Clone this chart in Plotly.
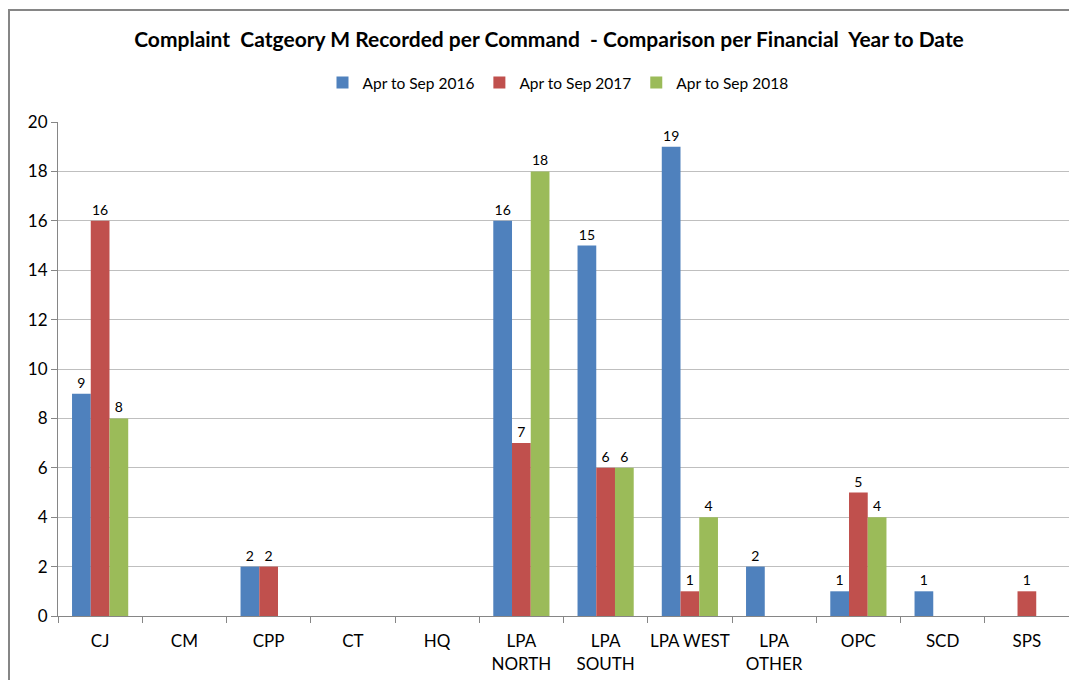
import plotly.graph_objects as go

commands = ["CJ", "CM", "CPP", "CT", "HQ", "LPA<br>NORTH", "LPA<br>SOUTH", "LPA WEST",
            "LPA<br>OTHER", "OPC", "SCD", "SPS"]
apr_sep_2016 = [9, 0, 2, 0, 0, 16, 15, 19, 2, 1, 1, 0]
apr_sep_2017 = [16, 0, 2, 0, 0, 7, 6, 1, 0, 5, 0, 1]
apr_sep_2018 = [8, 0, 0, 0, 0, 18, 6, 4, 0, 4, 0, 0]

series = [
    ("Apr to Sep 2016", apr_sep_2016, "#4F81BD"),
    ("Apr to Sep 2017", apr_sep_2017, "#C0504D"),
    ("Apr to Sep 2018", apr_sep_2018, "#9BBB59"),
]

# page body has an 8px margin, so the figure starts at (8, 8)
W, H = 1069, 672
M_L, M_R, M_T, M_B = 50, 8, 114, 64
FONT = "Lato, 'Open Sans', sans-serif"

fig = go.Figure()
for name, vals, colour in series:
    fig.add_trace(go.Bar(
        x=commands,
        y=vals,
        name=name,
        marker_color=colour,
        marker_line_width=0,
        text=[str(v) if v else "" for v in vals],
        textposition="outside",
        textfont=dict(size=14, color="#000000"),
        cliponaxis=False,
    ))

# chart border (Excel style frame), expressed in paper coords
pw = W - M_L - M_R
ph = H - M_T - M_B
fig.add_shape(
    type="rect", xref="paper", yref="paper",
    x0=(1 - M_L) / pw, x1=(W + 10 - M_L) / pw,
    y0=-(M_B + 10) / ph, y1=(H - M_B - 2) / ph,
    line=dict(color="#868686", width=2), fillcolor="rgba(0,0,0,0)",
    layer="below",
)

fig.update_layout(
    width=W, height=H,
    margin=dict(l=M_L, r=M_R, t=M_T, b=M_B, autoexpand=False),
    paper_bgcolor="white",
    plot_bgcolor="white",
    font=dict(family=FONT, color="#000000"),
    title=dict(
        text="<b>Complaint  Catgeory M Recorded per Command  - Comparison per Financial  Year to Date</b>",
        x=(549 - 8) / W, xanchor="center", y=1 - 32 / H, yanchor="middle",
        font=dict(size=21),
    ),
    legend=dict(
        orientation="h", x=(558 - 8 - M_L) / pw, xanchor="center",
        y=1 + (M_T - 75) / ph, yanchor="middle",
        font=dict(size=15.5), itemwidth=30, traceorder="normal",
    ),
    barmode="group",
    bargap=0.333,
    bargroupgap=0,
    showlegend=True,
)
fig.update_xaxes(
    automargin=False, tickangle=0, ticklabelstandoff=10,
    showline=True, linecolor="#868686", linewidth=1,
    ticks="outside", tickson="boundaries", ticklen=6, tickcolor="#868686",
    tickfont=dict(size=17), showgrid=False,
)
fig.update_yaxes(
    automargin=False,
    range=[0, 20], dtick=2,
    showline=True, linecolor="#868686", linewidth=1,
    ticks="outside", ticklen=6, tickcolor="#868686",
    showgrid=True, gridcolor="#BFBFBF", gridwidth=1,
    tickfont=dict(size=17), zeroline=False,
)

fig.write_html("out.html")
